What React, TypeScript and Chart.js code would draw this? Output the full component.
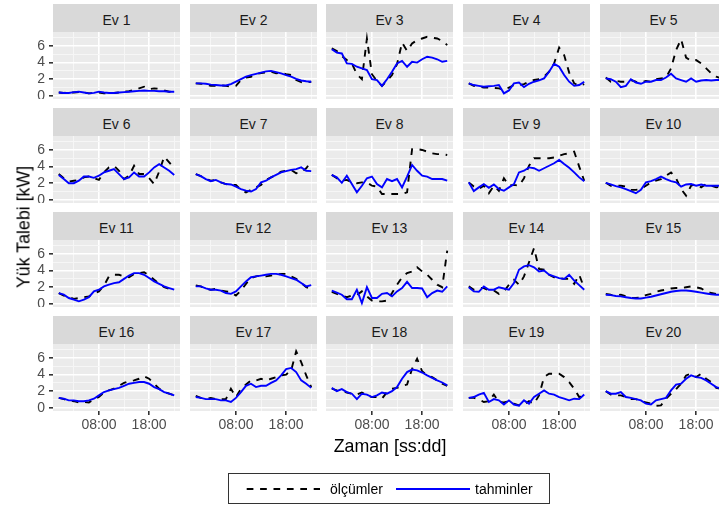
import React, { useEffect, useRef } from "react";
import { Chart, registerables } from "chart.js";

Chart.register(...registerables);

// ---------- data ----------
const HOURS = [0, 1, 2, 3, 4, 5, 6, 7, 8, 9, 10, 11, 12, 13, 14, 15, 16, 17, 18, 19, 20, 21, 22, 23];
const HOUSES = ["Ev 1", "Ev 2", "Ev 3", "Ev 4", "Ev 5", "Ev 6", "Ev 7", "Ev 8", "Ev 9", "Ev 10",
  "Ev 11", "Ev 12", "Ev 13", "Ev 14", "Ev 15", "Ev 16", "Ev 17", "Ev 18", "Ev 19", "Ev 20"];
const SERIES_NAMES = ["ölçümler", "tahminler"];
const X_TICK_VALUES = [8, 18];
const X_TICK_LABELS = ["08:00", "18:00"];
const X_MINOR = [3, 13, 23];
const Y_TICK_VALUES = [0, 2, 4, 6];
const Y_MINOR = [1, 3, 5, 7];
const X_TITLE = "Zaman [ss:dd]";
const Y_TITLE = "Yük Talebi [kW]";

const ev1Meas = [0.4, 0.35, 0.4, 0.4, 0.45, 0.4, 0.3, 0.35, 0.4, 0.3, 0.3, 0.35, 0.4, 0.5, 0.55, 0.7, 0.9, 1.1, 0.8, 0.9, 0.85, 0.65, 0.5, 0.45];
const ev1Pred = [0.4, 0.35, 0.35, 0.45, 0.5, 0.4, 0.3, 0.35, 0.5, 0.4, 0.35, 0.35, 0.4, 0.45, 0.5, 0.55, 0.6, 0.65, 0.6, 0.6, 0.55, 0.55, 0.5, 0.5];
const ev2Meas = [1.5, 1.45, 1.4, 1.2, 1.2, 1.25, 1.2, 1.1, 1.2, 1.9, 2.2, 2.3, 2.6, 2.75, 2.8, 2.9, 2.7, 2.8, 2.6, 2.5, 1.9, 1.65, 1.6, 1.7];
const ev2Pred = [1.5, 1.5, 1.45, 1.35, 1.3, 1.25, 1.25, 1.4, 1.7, 2.0, 2.3, 2.5, 2.65, 2.8, 2.95, 3.0, 2.85, 2.7, 2.5, 2.3, 2.05, 1.85, 1.75, 1.7];
const ev3Meas = [5.7, 5.4, 4.8, 4.3, 3.9, 2.6, 2.0, 6.9, 2.6, 1.8, 1.2, 1.8, 2.5, 3.8, 6.4, 5.4, 6.3, 6.7, 6.9, 7.1, 7.0, 6.9, 6.6, 6.1];
const ev3Pred = [5.6, 5.2, 5.1, 3.9, 3.85, 3.5, 3.3, 3.1, 2.0, 1.9, 1.2, 2.0, 2.9, 3.9, 4.2, 3.5, 4.1, 4.0, 4.4, 4.7, 4.6, 4.4, 4.1, 4.2];
const ev4Meas = [1.5, 1.2, 1.1, 1.0, 1.0, 0.95, 0.9, 0.7, 1.0, 1.3, 1.3, 1.4, 1.7, 1.9, 2.0, 2.3, 2.9, 3.9, 5.8, 4.9, 2.8, 1.5, 1.2, 1.4];
const ev4Pred = [1.5, 1.3, 1.2, 1.1, 1.15, 1.2, 1.3, 0.3, 0.65, 1.5, 1.6, 1.05, 1.45, 1.7, 1.85, 2.1, 2.9, 3.85, 3.5, 2.5, 1.7, 1.2, 1.3, 1.7];
const ev5Meas = [2.2, 1.7, 1.8, 1.7, 1.7, 1.9, 1.7, 1.6, 1.8, 1.7, 2.0, 2.1, 2.2, 3.3, 5.5, 6.8, 4.6, 4.2, 4.3, 3.9, 3.3, 2.7, 2.3, 2.1];
const ev5Pred = [2.1, 2.0, 1.7, 1.05, 1.2, 2.0, 1.6, 1.45, 1.7, 1.7, 1.9, 1.9, 2.2, 2.65, 2.1, 1.9, 1.7, 2.1, 1.7, 1.85, 1.9, 1.85, 1.9, 1.9];
const ev6Meas = [3.1, 2.6, 2.2, 2.3, 2.4, 2.7, 2.8, 2.6, 2.4, 3.3, 3.9, 4.1, 3.5, 2.5, 2.9, 4.1, 3.1, 3.1, 2.6, 1.9, 3.4, 5.2, 4.5, 3.8];
const ev6Pred = [3.0, 2.5, 2.0, 2.0, 2.3, 2.8, 2.8, 2.65, 2.9, 3.3, 3.5, 3.7, 3.1, 2.5, 2.7, 3.3, 2.8, 2.8, 3.3, 3.9, 4.3, 3.9, 3.5, 3.0];
const ev7Meas = [3.1, 2.85, 2.5, 2.3, 2.4, 2.1, 1.9, 1.8, 1.8, 1.2, 0.9, 1.2, 1.5, 1.8, 2.4, 2.7, 3.0, 3.4, 3.5, 3.6, 3.2, 3.3, 3.8, 4.6];
const ev7Pred = [3.1, 2.85, 2.5, 2.25, 2.4, 2.1, 1.9, 1.85, 1.6, 1.3, 1.1, 1.0, 1.3, 2.1, 2.3, 2.7, 3.0, 3.3, 3.45, 3.6, 3.7, 3.9, 3.5, 3.45];
const ev8Meas = [3.0, 2.6, 2.3, 2.4, 2.1, 2.0, 2.1, 2.1, 1.7, 1.6, 0.7, 0.7, 0.7, 0.7, 0.7, 0.9, 6.1, 6.1, 6.0, 5.8, 5.6, 5.5, 5.5, 5.4];
const ev8Pred = [3.0, 2.7, 2.05, 2.9, 1.9, 0.9, 1.7, 2.6, 2.8, 1.9, 1.5, 2.5, 2.25, 2.5, 1.5, 2.8, 4.2, 3.5, 2.9, 2.8, 2.5, 2.5, 2.5, 2.3];
const ev9Meas = [2.1, 1.6, 1.3, 1.7, 0.8, 1.7, 1.1, 2.6, 1.7, 1.8, 1.7, 2.6, 4.1, 5.0, 5.0, 5.0, 5.0, 5.1, 5.3, 5.5, 5.6, 5.8, 4.0, 2.3];
const ev9Pred = [2.1, 1.05, 1.5, 1.9, 1.45, 1.85, 1.3, 1.1, 1.5, 1.9, 3.3, 3.5, 3.9, 3.8, 3.5, 3.8, 4.1, 4.4, 4.8, 4.3, 3.85, 3.3, 2.7, 2.25];
const ev10Meas = [2.05, 1.7, 1.7, 1.7, 1.6, 1.2, 1.2, 1.3, 1.7, 2.1, 2.3, 2.5, 2.9, 3.3, 2.6, 1.3, 0.5, 1.7, 1.9, 1.5, 1.9, 1.7, 1.5, 1.6];
const ev10Pred = [2.05, 1.85, 1.65, 1.5, 1.3, 1.05, 0.8, 1.2, 2.1, 2.25, 2.5, 2.8, 2.5, 2.25, 2.1, 1.6, 1.85, 1.9, 1.7, 1.85, 1.7, 1.7, 1.7, 1.7];
const ev11Meas = [1.3, 1.0, 0.8, 0.6, 0.7, 0.8, 0.9, 1.2, 1.5, 2.2, 3.3, 3.5, 3.5, 3.3, 3.2, 3.6, 3.7, 3.8, 3.4, 2.9, 2.4, 2.0, 1.8, 1.4];
const ev11Pred = [1.3, 1.1, 0.7, 0.5, 0.3, 0.5, 0.8, 1.5, 1.7, 2.1, 2.3, 2.5, 2.6, 3.0, 3.4, 3.7, 3.7, 3.5, 3.1, 2.7, 2.4, 2.1, 1.9, 1.7];
const ev12Meas = [2.2, 2.1, 1.8, 1.7, 1.8, 1.6, 1.5, 1.4, 1.0, 1.6, 2.4, 3.1, 3.3, 3.4, 3.3, 3.4, 3.5, 3.6, 3.6, 3.3, 3.0, 2.5, 2.0, 1.8];
const ev12Pred = [2.1, 2.1, 1.85, 1.7, 1.7, 1.6, 1.3, 1.2, 1.5, 2.1, 2.7, 3.2, 3.3, 3.4, 3.5, 3.6, 3.6, 3.5, 3.3, 3.1, 2.9, 2.5, 2.1, 2.25];
const ev13Meas = [1.45, 1.2, 1.0, 0.8, 1.0, 1.05, 1.5, 0.9, 0.4, 0.3, 0.3, 0.4, 1.3, 2.3, 3.2, 3.7, 3.9, 4.4, 3.9, 3.5, 2.9, 2.3, 2.0, 6.4];
const ev13Pred = [1.6, 1.35, 1.1, 0.55, 0.55, 1.7, 0.1, 2.0, 0.7, 0.7, 1.2, 1.3, 0.9, 1.5, 1.9, 2.65, 1.9, 1.9, 1.85, 0.8, 1.3, 1.6, 1.45, 2.1];
const ev14Meas = [2.1, 1.7, 1.9, 1.9, 1.6, 1.6, 1.2, 1.5, 2.3, 2.9, 2.3, 3.3, 5.0, 6.7, 4.2, 4.1, 3.5, 3.2, 3.1, 3.0, 3.0, 2.4, 3.5, 1.9];
const ev14Pred = [2.0, 1.5, 1.45, 2.1, 1.7, 1.7, 2.0, 1.85, 1.7, 2.5, 4.1, 4.5, 4.65, 4.4, 3.9, 4.0, 3.5, 3.3, 3.1, 3.0, 3.5, 2.8, 2.25, 1.7];
const ev15Meas = [1.2, 1.1, 1.05, 1.1, 0.9, 0.7, 0.7, 0.75, 1.05, 1.2, 1.45, 1.6, 1.7, 1.85, 1.9, 1.9, 2.0, 2.1, 2.0, 1.85, 1.5, 1.3, 1.2, 1.2];
const ev15Pred = [1.1, 1.05, 0.95, 0.9, 0.8, 0.7, 0.65, 0.65, 0.75, 0.85, 1.0, 1.15, 1.3, 1.45, 1.55, 1.6, 1.6, 1.55, 1.45, 1.35, 1.25, 1.15, 1.1, 1.1];
const ev16Meas = [1.2, 1.05, 0.9, 0.8, 0.65, 0.7, 0.65, 1.05, 1.3, 1.85, 2.1, 2.3, 2.65, 3.0, 3.2, 3.3, 3.5, 3.8, 3.5, 2.9, 2.3, 1.9, 1.7, 1.5];
const ev16Pred = [1.2, 1.1, 0.9, 0.9, 0.8, 0.8, 0.9, 1.1, 1.5, 1.9, 2.1, 2.25, 2.4, 2.65, 2.9, 3.0, 3.1, 3.1, 2.9, 2.5, 2.25, 1.9, 1.7, 1.5];
const ev17Meas = [1.45, 1.2, 1.05, 1.2, 1.05, 1.05, 1.05, 2.3, 1.3, 2.3, 2.8, 3.3, 3.3, 3.5, 3.3, 3.5, 3.7, 3.9, 4.0, 4.5, 6.8, 5.5, 3.9, 2.5];
const ev17Pred = [1.3, 1.2, 1.05, 1.05, 1.05, 0.9, 0.9, 0.7, 1.2, 1.9, 2.65, 2.9, 2.5, 2.65, 2.65, 3.0, 3.3, 3.9, 4.65, 4.8, 4.3, 3.3, 2.9, 2.4];
const ev18Meas = [2.3, 2.1, 2.0, 1.85, 1.7, 1.6, 1.85, 1.5, 1.3, 1.3, 1.1, 1.9, 2.3, 2.4, 2.65, 2.8, 4.7, 5.9, 4.4, 3.9, 3.7, 3.3, 2.9, 2.65];
const ev18Pred = [2.4, 2.0, 2.25, 1.9, 1.7, 1.05, 1.7, 1.6, 1.3, 1.5, 1.85, 1.7, 2.0, 2.5, 3.5, 4.3, 4.6, 4.5, 4.25, 3.9, 3.6, 3.3, 3.05, 2.7];
const ev19Meas = [1.2, 1.2, 1.05, 0.7, 0.8, 1.6, 0.7, 0.65, 0.8, 0.5, 0.3, 0.4, 0.8, 0.5, 1.5, 3.7, 4.1, 4.1, 4.1, 3.7, 3.1, 2.3, 1.3, 1.45];
const ev19Pred = [1.2, 1.3, 1.6, 1.8, 0.7, 1.05, 0.9, 0.4, 0.9, 0.4, 0.25, 0.9, 0.5, 1.3, 1.7, 2.1, 1.7, 1.6, 1.3, 1.1, 0.9, 1.1, 1.05, 1.6];
const ev20Meas = [2.0, 1.6, 1.5, 1.5, 1.3, 1.05, 1.05, 0.8, 0.65, 0.5, 0.25, 0.3, 1.1, 1.7, 2.25, 2.9, 3.9, 4.1, 3.7, 4.1, 3.5, 3.1, 2.4, 2.3];
const ev20Pred = [2.0, 1.7, 1.7, 1.9, 1.3, 1.2, 1.05, 0.9, 0.5, 0.4, 0.9, 1.05, 1.2, 2.1, 2.8, 2.9, 3.5, 3.9, 3.7, 3.6, 3.3, 2.9, 2.5, 2.3];

const MEASURED = [ev1Meas, ev2Meas, ev3Meas, ev4Meas, ev5Meas, ev6Meas, ev7Meas, ev8Meas, ev9Meas, ev10Meas,
  ev11Meas, ev12Meas, ev13Meas, ev14Meas, ev15Meas, ev16Meas, ev17Meas, ev18Meas, ev19Meas, ev20Meas];
const PREDICTED = [ev1Pred, ev2Pred, ev3Pred, ev4Pred, ev5Pred, ev6Pred, ev7Pred, ev8Pred, ev9Pred, ev10Pred,
  ev11Pred, ev12Pred, ev13Pred, ev14Pred, ev15Pred, ev16Pred, ev17Pred, ev18Pred, ev19Pred, ev20Pred];

// ---------- layout / style ----------
const FONT = "'Liberation Sans', Arial, Helvetica, sans-serif";
const COL_LEFT = [53, 190, 326, 463, 600];
const ROW_TOP = [4, 108, 212, 316];
const STRIP_H = 28;
const PLOT_W = 127;
const PLOT_H = 67;
const LEFT_AXIS = 53;
const BOTTOM_AXIS = 30;
const X_MIN = -1.15, X_MAX = 24.15;
const Y_MIN = -0.38, Y_MAX = 7.68;
const MEAS_COLOR = "#000000";
const PRED_COLOR = "#0000FF";
const DASH = [6.7, 6.7];

const panelBg = {
  id: "panelBg",
  beforeDraw(chart: any) {
    const { ctx, chartArea: a } = chart;
    ctx.save();
    ctx.fillStyle = "#EBEBEB";
    ctx.fillRect(a.left, a.top, a.right - a.left, a.bottom - a.top);
    ctx.restore();
  },
};

function Panel({ index }: { index: number }) {
  const ref = useRef<HTMLCanvasElement | null>(null);
  const row = Math.floor(index / 5);
  const col = index % 5;
  const leftExtra = col === 0 ? LEFT_AXIS : 0;
  const bottomExtra = row === 3 ? BOTTOM_AXIS : 0;
  const w = PLOT_W + leftExtra;
  const h = PLOT_H + bottomExtra;
  const plotTop = ROW_TOP[row] + STRIP_H;

  useEffect(() => {
    const canvas = ref.current;
    if (!canvas) return;
    const pts = (arr: number[]) => HOURS.map((x, i) => ({ x, y: arr[i] }));
    const majorX = (v: number) => X_TICK_VALUES.indexOf(v) >= 0;
    const majorY = (v: number) => Y_TICK_VALUES.indexOf(v) >= 0;
    const chart = new Chart(canvas, {
      type: "line",
      data: {
        datasets: [
          {
            label: SERIES_NAMES[1],
            data: pts(PREDICTED[index]),
            borderColor: PRED_COLOR,
            borderWidth: 1.9,
            pointRadius: 0,
            tension: 0,
            fill: false,
            order: 1,
          },
          {
            label: SERIES_NAMES[0],
            data: pts(MEASURED[index]),
            borderColor: MEAS_COLOR,
            borderWidth: 1.9,
            borderDash: DASH,
            pointRadius: 0,
            tension: 0,
            fill: false,
            order: 2,
          },
        ],
      },
      options: {
        responsive: false,
        maintainAspectRatio: false,
        animation: false,
        devicePixelRatio: 1,
        events: [],
        layout: { padding: 0, autoPadding: false },
        plugins: { legend: { display: false }, tooltip: { enabled: false }, title: { display: false } },
        scales: {
          x: {
            type: "linear",
            min: X_MIN,
            max: X_MAX,
            afterBuildTicks: (s: any) => {
              s.ticks = [...X_MINOR, ...X_TICK_VALUES].sort((a, b) => a - b).map((v) => ({ value: v }));
            },
            afterFit: (s: any) => {
              s.height = bottomExtra;
              s.paddingLeft = 0;
              s.paddingRight = 0;
            },
            ticks: {
              display: row === 3,
              autoSkip: false,
              maxRotation: 0,
              padding: 2,
              color: "#4D4D4D",
              font: { family: FONT, size: 14 },
              callback: (v: any) => {
                const i = X_TICK_VALUES.indexOf(Number(v));
                return i >= 0 ? X_TICK_LABELS[i] : "";
              },
            },
            grid: {
              color: (c: any) => (c.tick && majorX(c.tick.value) ? "#FFFFFF" : "#F6F6F6"),
              lineWidth: (c: any) => (c.tick && majorX(c.tick.value) ? 1.6 : 1),
              drawTicks: row === 3,
              tickLength: 4,
              tickWidth: 1.6,
              tickColor: (c: any) => (c.tick && majorX(c.tick.value) ? "#333333" : "rgba(0,0,0,0)"),
            },
            border: { display: false },
          },
          y: {
            type: "linear",
            min: Y_MIN,
            max: Y_MAX,
            afterBuildTicks: (s: any) => {
              s.ticks = [...Y_TICK_VALUES, ...Y_MINOR].sort((a, b) => a - b).map((v) => ({ value: v }));
            },
            afterFit: (s: any) => {
              s.width = leftExtra;
              s.paddingTop = 0;
              s.paddingBottom = 0;
            },
            ticks: {
              display: col === 0,
              autoSkip: false,
              padding: 4,
              color: "#4D4D4D",
              font: { family: FONT, size: 14 },
              callback: (v: any) => (majorY(Number(v)) ? String(v) : ""),
            },
            grid: {
              color: (c: any) => (c.tick && majorY(c.tick.value) ? "#FFFFFF" : "#F6F6F6"),
              lineWidth: (c: any) => (c.tick && majorY(c.tick.value) ? 1.6 : 1),
              drawTicks: col === 0,
              tickLength: 4,
              tickWidth: 1.6,
              tickColor: (c: any) => (c.tick && majorY(c.tick.value) ? "#333333" : "rgba(0,0,0,0)"),
            },
            border: { display: false },
          },
        },
      } as any,
      plugins: [panelBg],
    });
    return () => chart.destroy();
  }, []);

  return (
    <>
      <div
        style={{
          position: "absolute",
          left: COL_LEFT[col],
          top: ROW_TOP[row],
          width: PLOT_W,
          height: STRIP_H,
          background: "#D9D9D9",
          color: "#1A1A1A",
          fontFamily: FONT,
          fontSize: 14,
          display: "flex",
          alignItems: "center",
          justifyContent: "center",
          boxSizing: "border-box",
          paddingTop: 3,
          whiteSpace: "nowrap",
        }}
      >
        {HOUSES[index]}
      </div>
      <canvas
        ref={ref}
        width={w}
        height={h}
        style={{ position: "absolute", left: COL_LEFT[col] - leftExtra, top: plotTop, width: w, height: h }}
      />
    </>
  );
}

export default function App() {
  return (
    <div
      style={{
        position: "fixed",
        left: 0,
        top: 0,
        width: 719,
        height: 506,
        overflow: "hidden",
        background: "#FFFFFF",
        fontFamily: FONT,
      }}
    >
      {HOUSES.map((_, i) => (
        <Panel key={i} index={i} />
      ))}
      {/* y title */}
      <div
        style={{
          position: "absolute",
          left: 24,
          top: 227,
          transform: "translate(-50%, -50%) rotate(-90deg)",
          fontSize: 17.8,
          color: "#000",
          whiteSpace: "nowrap",
        }}
      >
        {Y_TITLE}
      </div>
      {/* x title */}
      <div
        style={{
          position: "absolute",
          left: 390,
          top: 445.5,
          transform: "translate(-50%, -50%)",
          fontSize: 17.8,
          color: "#000",
          whiteSpace: "nowrap",
        }}
      >
        {X_TITLE}
      </div>
      {/* legend */}
      <div
        style={{
          position: "absolute",
          left: 228,
          top: 473,
          width: 322,
          height: 31,
          border: "1px solid #333333",
          boxSizing: "border-box",
        }}
      />
      <svg style={{ position: "absolute", left: 246, top: 484 }} width={76} height={10}>
        <line x1={0.7} y1={5} x2={74} y2={5} stroke={MEAS_COLOR} strokeWidth={1.9} strokeDasharray="6.7 6.7" />
      </svg>
      <div style={{ position: "absolute", left: 330, top: 481, fontSize: 14, lineHeight: "16px", color: "#000" }}>
        {SERIES_NAMES[0]}
      </div>
      <svg style={{ position: "absolute", left: 395, top: 484 }} width={77} height={10}>
        <line x1={1} y1={5} x2={75} y2={5} stroke={PRED_COLOR} strokeWidth={1.9} />
      </svg>
      <div style={{ position: "absolute", left: 475, top: 481, fontSize: 14, lineHeight: "16px", color: "#000" }}>
        {SERIES_NAMES[1]}
      </div>
    </div>
  );
}
